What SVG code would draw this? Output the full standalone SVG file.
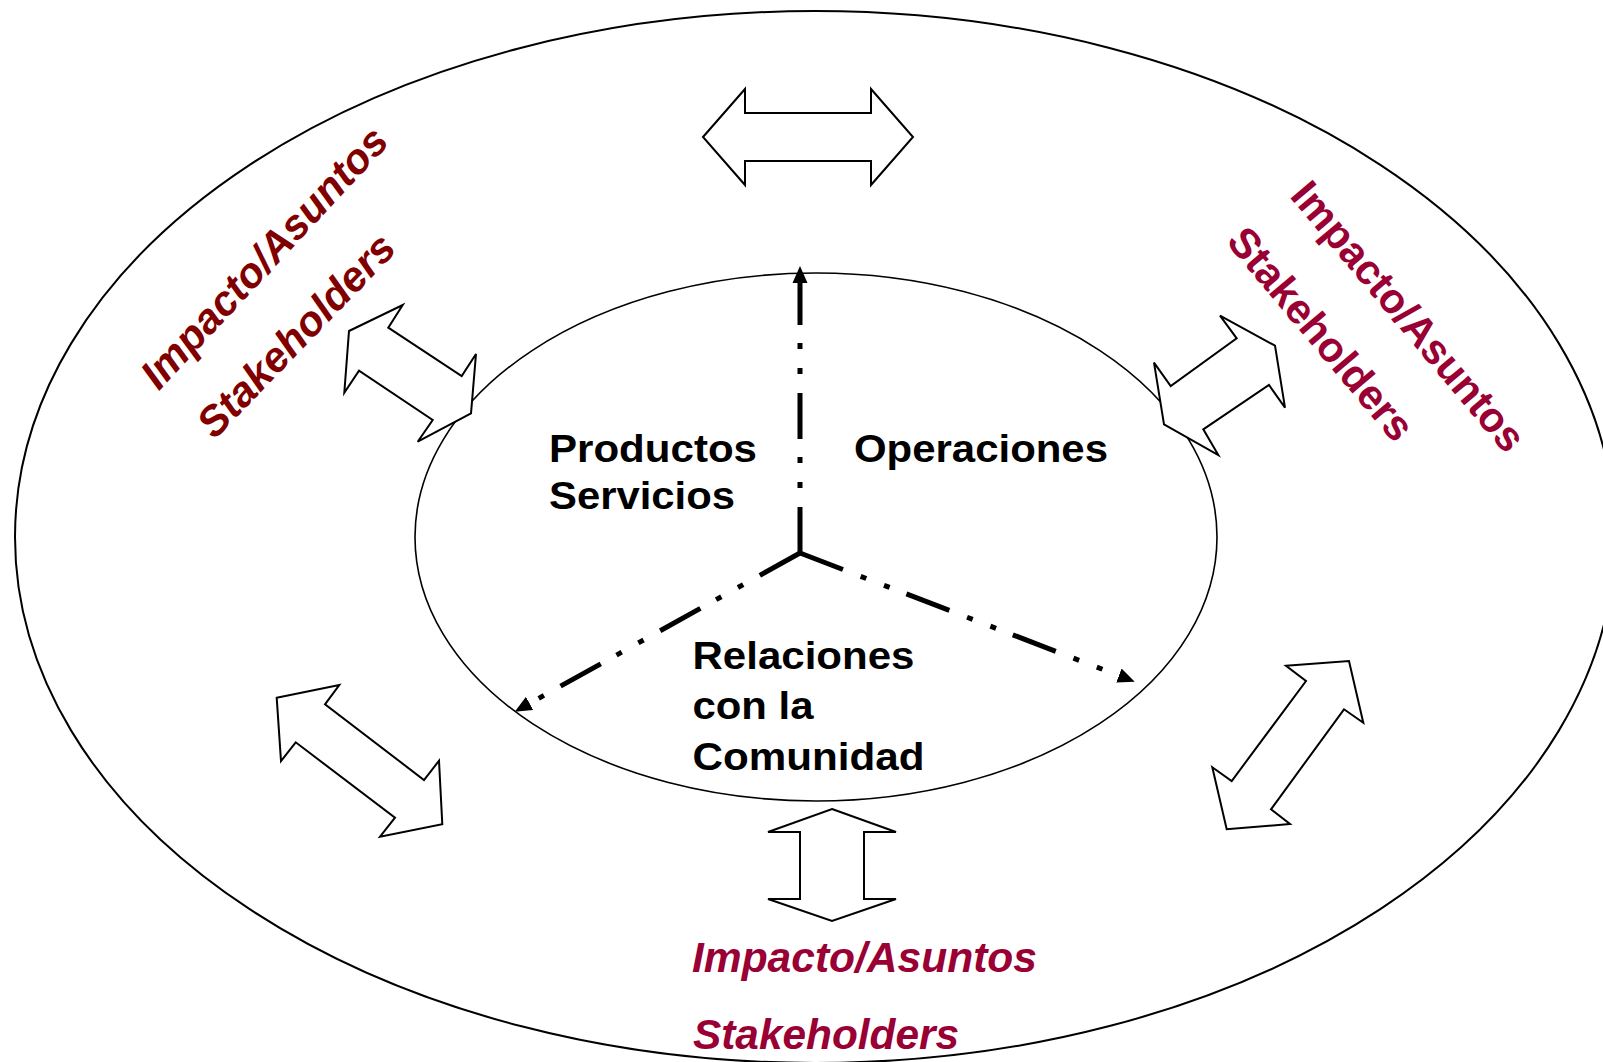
<svg xmlns="http://www.w3.org/2000/svg" width="1603" height="1062" viewBox="0 0 1603 1062">
<style>
.ring{fill:#fff;stroke:#000;stroke-width:2}
.core{fill:#fff;stroke:#000;stroke-width:1.6}
.flow{fill:none;stroke:#000;stroke-width:5;stroke-dasharray:46 19 6 19 6 18}
.dbl{fill:#fff;stroke:#000;stroke-width:2;stroke-linejoin:miter}
.lbl{font-family:"Liberation Sans",Arial,sans-serif;font-weight:bold;font-size:42px;fill:#000}
.red{font-family:"Liberation Sans",Arial,sans-serif;font-weight:bold;font-size:42px}
.maroon{fill:#800000}
.crimson{fill:#990033}
.it{font-style:italic}
</style>
<defs>
<marker id="tri" markerUnits="userSpaceOnUse" markerWidth="18" markerHeight="16" refX="0" refY="7.5" orient="auto" viewBox="0 0 18 15">
<path d="M0,0 L17,7.5 L0,15 z" fill="#000"/>
</marker>
</defs>
<rect width="1603" height="1062" fill="#fff"/>
<g id="outer-ring">
<ellipse class="ring" cx="815" cy="537" rx="800" ry="526"/>
</g>
<g id="inner-core">
<ellipse class="core" cx="816" cy="537" rx="401" ry="264"/>
</g>
<g id="connectors">
<path class="flow" d="M800,553 L800,283" marker-end="url(#tri)"/>
<path class="flow" d="M800,553 L529.6,703.4" marker-end="url(#tri)"/>
<path class="flow" d="M800,553 L1118.9,675.6" marker-end="url(#tri)"/>
</g>
<g id="interaction-arrows">
<polygon id="arrow-top" class="dbl" points="703,137 745,89 745,113 871,113 871,89 913,137 871,185 871,161 745,161 745,185"/>
<polygon id="arrow-bottom" class="dbl" points="832,809 896,832 864,832 864,899 896,899 832,921 768,899 800,899 800,832 768,832"/>
<polygon id="arrow-upper-left" class="dbl" points="402.7,305 388.3,327.7 461.7,376 476,354 471,413.3 417.7,441.7 432.7,420 359,370.7 344.3,392.7 349,331"/>
<polygon id="arrow-upper-right" class="dbl" points="1220,315.7 1275,345.7 1285,407.7 1269,385 1203.3,429.3 1218.3,455 1164,424.3 1154,362.7 1170.7,386 1236.7,338.3"/>
<polygon id="arrow-lower-left" class="dbl" points="276.7,697.7 339.3,685 325,704.3 424,780 439,760.7 442.3,824.3 380,836.7 395,817.7 295.7,742.3 281,761"/>
<polygon id="arrow-lower-right" class="dbl" points="1286,665.7 1349,661 1363.3,722.7 1344,709.3 1271,809.3 1290,824 1226.7,829.3 1212.3,767.3 1231.7,781 1306,681"/>
</g>
<g id="node-productos">
<text class="lbl" transform="translate(549,462) scale(1,0.91)" textLength="208" lengthAdjust="spacingAndGlyphs">Productos</text>
<text class="lbl" transform="translate(549,509) scale(1,0.91)" textLength="186" lengthAdjust="spacingAndGlyphs">Servicios</text>
</g>
<g id="node-operaciones">
<text class="lbl" transform="translate(854,462) scale(1,0.91)" textLength="254" lengthAdjust="spacingAndGlyphs">Operaciones</text>
</g>
<g id="node-relaciones">
<text class="lbl" transform="translate(692.5,668.5) scale(1,0.91)" textLength="222" lengthAdjust="spacingAndGlyphs">Relaciones</text>
<text class="lbl" transform="translate(692.5,719) scale(1,0.91)" textLength="121" lengthAdjust="spacingAndGlyphs">con la</text>
<text class="lbl" transform="translate(692.5,769.5) scale(1,0.91)" textLength="232" lengthAdjust="spacingAndGlyphs">Comunidad</text>
</g>
<g id="stakeholders-left">
<text class="red maroon it" text-anchor="middle" transform="translate(274.6,267.2) rotate(-47)" textLength="340" lengthAdjust="spacingAndGlyphs">Impacto/Asuntos</text>
<text class="red maroon it" text-anchor="middle" transform="translate(306.3,345.2) rotate(-46)" textLength="264" lengthAdjust="spacingAndGlyphs">Stakeholders</text>
</g>
<g id="stakeholders-right">
<text class="red crimson" text-anchor="middle" transform="translate(1397.5,325.6) rotate(50)" textLength="338" lengthAdjust="spacingAndGlyphs">Impacto/Asuntos</text>
<text class="red crimson" text-anchor="middle" transform="translate(1310,343) rotate(50)" textLength="264" lengthAdjust="spacingAndGlyphs">Stakeholders</text>
</g>
<g id="stakeholders-bottom">
<text class="red crimson it" x="692" y="972" textLength="345" lengthAdjust="spacingAndGlyphs">Impacto/Asuntos</text>
<text class="red crimson it" x="693" y="1049" textLength="266" lengthAdjust="spacingAndGlyphs">Stakeholders</text>
</g>
</svg>
